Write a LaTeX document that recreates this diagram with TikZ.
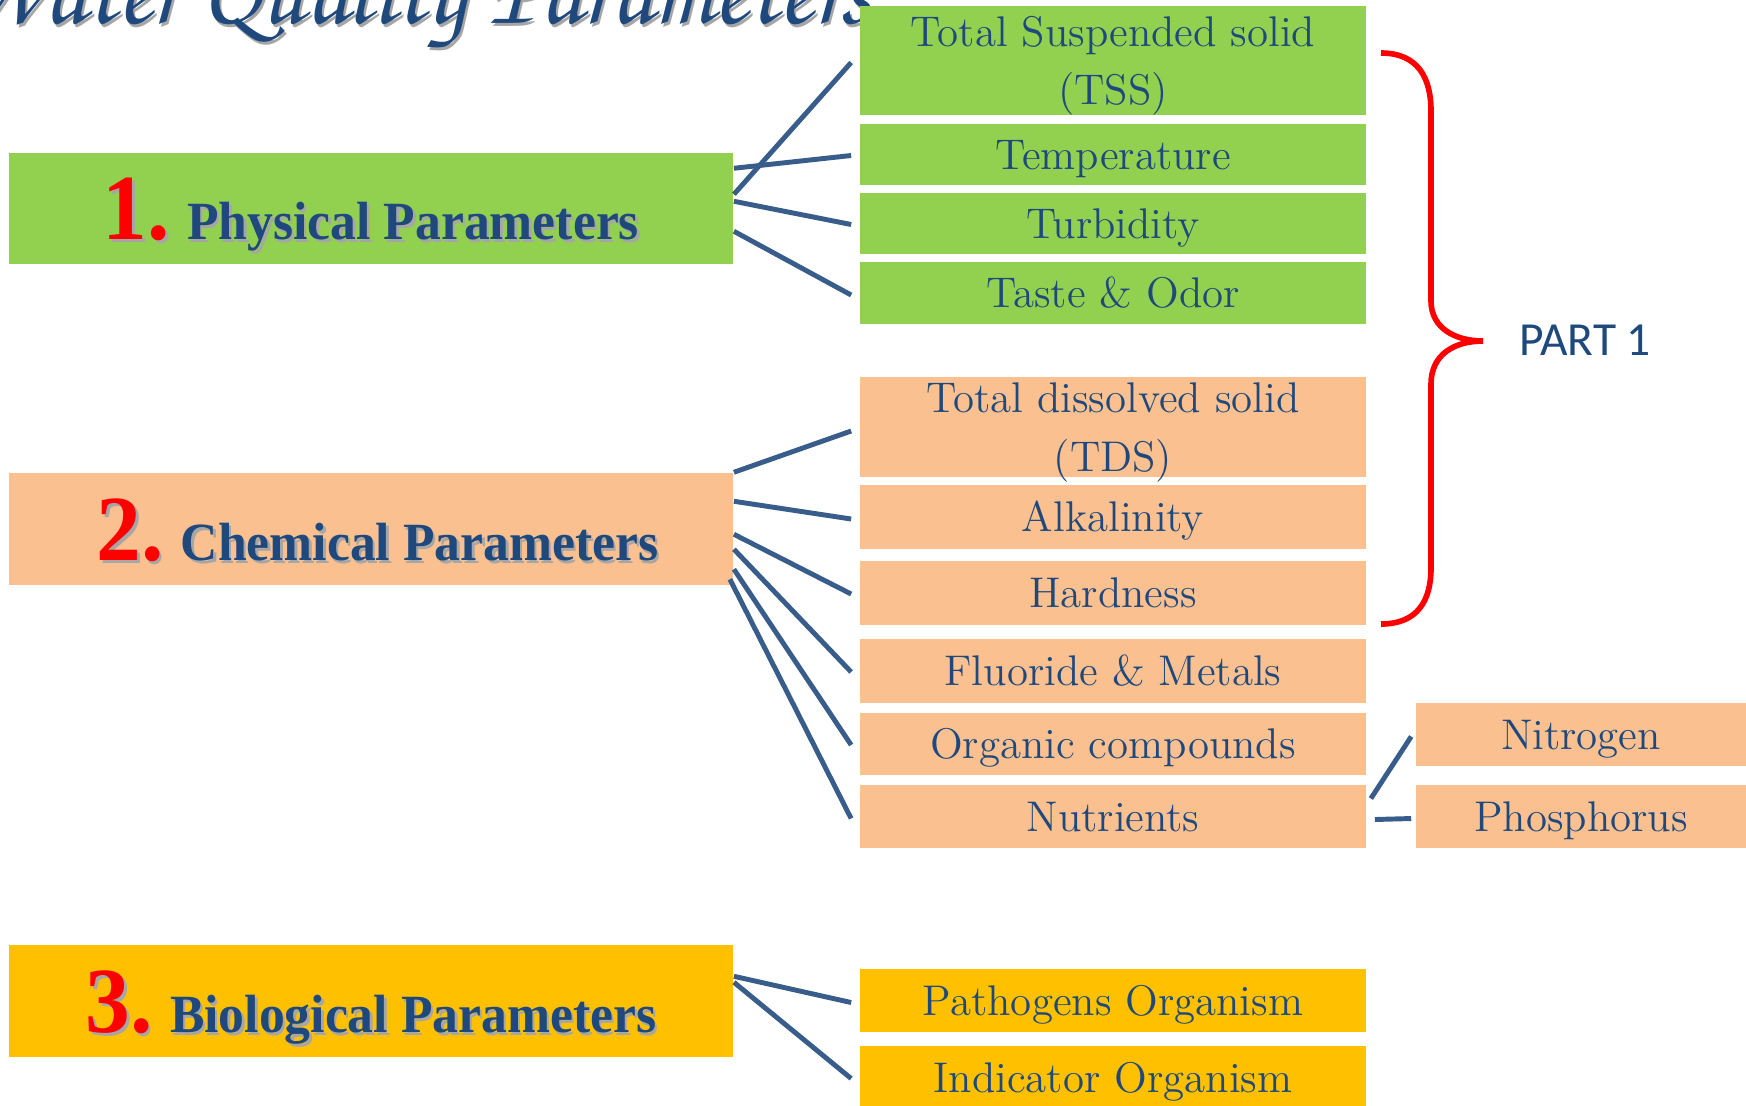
\documentclass[tikz,border=0pt]{standalone}
\usepackage{fontspec}
\usetikzlibrary{calc}
\newfontfamily\tnr{Liberation Serif}[FakeStretch=0.96]
\newfontfamily\carl{Carlito}
\IfFontExistsTF{texgyrechorus-mediumitalic.otf}
  {\newfontfamily\titlefam{texgyrechorus-mediumitalic.otf}}
  {\newcommand\titlefam{\itshape}}
\definecolor{pgreen}{HTML}{92D050}
\definecolor{ppeach}{HTML}{FAC090}
\definecolor{pgold}{HTML}{FFC000}
\definecolor{ptext}{HTML}{1F497D}
\definecolor{pline}{HTML}{385D8A}
\newcommand{\hnum}[1]{{\fontsize{26.5}{26.5}\selectfont #1}}
\tikzset{
  itembase/.style={inner sep=0pt, minimum width=5.06cm, text=ptext,
    font=\fontsize{12.2}{16.6}\selectfont},
  single/.style={itembase, text height=8.3pt, text depth=0pt},
  double/.style={itembase, align=center},
  gfill/.style={fill=pgreen},
  pfill/.style={fill=ppeach},
  yfill/.style={fill=pgold},
  headbox/.style={inner sep=0pt, minimum width=7.24cm},
  headtext/.style={anchor=base, inner sep=0pt, text=ptext,
    font=\tnr\bfseries\fontsize{15.3}{15.3}\selectfont},
  headshadow/.style={headtext, text=black!35},
  conn/.style={draw=pline, line width=1.4pt},
  bracepath/.style={draw=red, line width=1.6pt},
  titletext/.style={anchor=base east, inner sep=0pt, text=ptext,
    font=\titlefam\fontsize{28}{28}\selectfont},
  titleshadow/.style={titletext, text=black!35}
}
\begin{document}
\begin{tikzpicture}[x=0.01cm, y=-0.01cm]
\useasboundingbox (0,0) rectangle (1746,1105);
\clip (0,0) rectangle (1746,1105);

% title (cut off at the top)
\node[titleshadow] (titles) at (874,26) {Water Quality Parameters};
\node[titletext] (title) at (872,23) {Water Quality Parameters};

% left category boxes
\node[headbox, gfill, minimum height=1.11cm] (phys) at (371,208.5) {};
\node[headbox, pfill, minimum height=1.12cm] (chem) at (371,529) {};
\node[headbox, yfill, minimum height=1.12cm] (bio) at (371,1001) {};

\node[headshadow] (t1s) at ($(phys.center)+(2.5,33.5)$) {\hnum{1.} Physical Parameters};
\node[headtext] (t1) at ($(phys.center)+(0,31)$) {\textcolor{red}{\hnum{1.}} Physical Parameters};
\node[headshadow] (t2s) at ($(chem.center)+(9,34)$) {\hnum{2.} Chemical Parameters};
\node[headtext] (t2) at ($(chem.center)+(6.5,31.5)$) {\textcolor{red}{\hnum{2.}} Chemical Parameters};
\node[headshadow] (t3s) at ($(bio.center)+(2.5,34)$) {\hnum{3.} Biological Parameters};
\node[headtext] (t3) at ($(bio.center)+(0,31.5)$) {\textcolor{red}{\hnum{3.}} Biological Parameters};

% right item boxes
\node[double, gfill, minimum height=1.09cm] (tss) at (1113,60.5) {Total Suspended solid\\\smash{(TSS)}};
\node[single, gfill, minimum height=0.61cm] (temp) at (1113,154.5) {Temperature};
\node[single, gfill, minimum height=0.61cm] (turb) at (1113,223.5) {Turbidity};
\node[single, gfill, minimum height=0.62cm] (taste) at (1113,293) {Taste \& Odor};

\node[double, pfill, minimum height=1.00cm] (tds) at (1113,427) {Total dissolved solid\\\smash{(TDS)}};
\node[single, pfill, minimum height=0.64cm] (alk) at (1113,517) {Alkalinity};
\node[single, pfill, minimum height=0.64cm] (hard) at (1113,593) {Hardness};
\node[single, pfill, minimum height=0.64cm] (fluo) at (1113,671) {Fluoride \& Metals};
\node[single, pfill, minimum height=0.62cm] (org) at (1113,744) {Organic compounds};
\node[single, pfill, minimum height=0.63cm] (nutr) at (1113,816.5) {Nutrients};

\node[single, pfill, minimum height=0.63cm, minimum width=3.30cm] (nitro) at (1581,734.5) {Nitrogen};
\node[single, pfill, minimum height=0.63cm, minimum width=3.30cm] (phos) at (1581,816.5) {Phosphorus};

\node[single, yfill, minimum height=0.63cm] (path) at (1113,1000.5) {Pathogens Organism};
\node[single, yfill, minimum height=0.63cm] (indic) at (1113,1077.5) {Indicator Organism};

% connectors: physical
\draw[conn] ($(phys.north east)+(0,42)$) -- ($(tss.west)+(-8,2)$);
\draw[conn] ($(phys.north east)+(0,16)$) -- ($(temp.west)+(-8,1)$);
\draw[conn] ($(phys.north east)+(0,49)$) -- ($(turb.west)+(-8,1)$);
\draw[conn] ($(phys.north east)+(0,79)$) -- ($(taste.west)+(-8,2)$);
% connectors: chemical
\draw[conn] ($(chem.north east)+(0,0)$) -- ($(tds.west)+(-8,4)$);
\draw[conn] ($(chem.north east)+(0,29)$) -- ($(alk.west)+(-8,2)$);
\draw[conn] ($(chem.north east)+(0,62)$) -- ($(hard.west)+(-8,1)$);
\draw[conn] ($(chem.north east)+(0,77)$) -- ($(fluo.west)+(-8,1)$);
\draw[conn] ($(chem.north east)+(0,97)$) -- ($(org.west)+(-8,1)$);
\draw[conn] ($(chem.north east)+(-4,107)$) -- ($(nutr.west)+(-8,2)$);
% connectors: nutrients
\draw[conn] ($(nutr.east)+(4,-18)$) -- ($(nitro.west)+(-4,2)$);
\draw[conn] ($(nutr.east)+(8,3)$) -- ($(phos.west)+(-4,2)$);
% connectors: biological
\draw[conn] ($(bio.north east)+(0,32)$) -- ($(path.west)+(-8,2)$);
\draw[conn] ($(bio.north east)+(0,38)$) -- ($(indic.west)+(-8,1)$);

% red brace
\coordinate (bTop) at (1381,53);
\coordinate (bTip) at (1483,341);
\coordinate (bBot) at (1381,624);
\draw[bracepath] (bTop) .. controls (1418,53) and (1431,78) .. (1431,111)
  -- (1431,301) .. controls (1431,328) and (1455,341) .. (bTip)
  .. controls (1455,341) and (1431,354) .. (1431,384)
  -- (1431,568) .. controls (1431,600) and (1418,624) .. (bBot);
\node[text=ptext, font=\carl\fontsize{13.5}{13.5}\selectfont, inner sep=0pt] (part) at (1585,340) {PART 1};
\end{tikzpicture}
\end{document}
